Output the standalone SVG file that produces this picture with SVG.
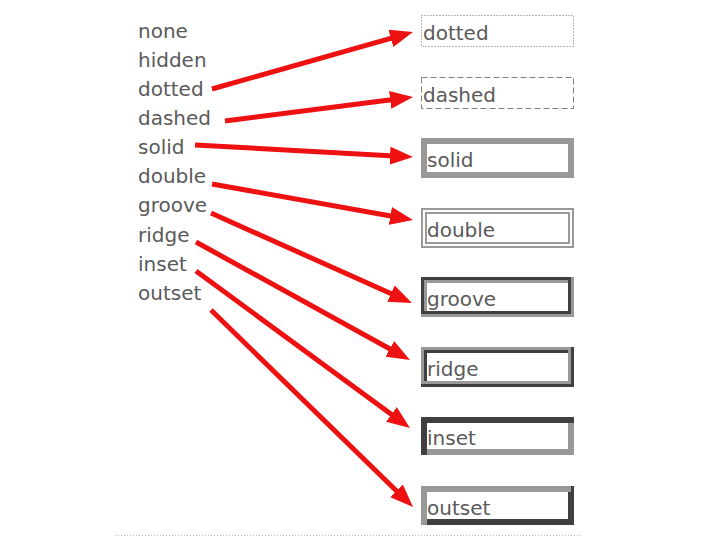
<svg xmlns="http://www.w3.org/2000/svg" width="720" height="540" viewBox="0 0 720 540">
<defs>
<style>
.lbl{font-family:"DejaVu Sans",sans-serif;font-size:20px;fill:#5a5a5a}
.arr{stroke:#ee1111;stroke-width:5;fill:none;marker-end:url(#ah)}
.dk{stroke:#404040;stroke-width:3;fill:none}
.lt{stroke:#999999;stroke-width:3;fill:none}
</style>
<marker id="ah" markerUnits="userSpaceOnUse" markerWidth="23" markerHeight="18" viewBox="0 0 23 18" refX="9" refY="9" orient="auto">
<path d="M0,0 L23,9 L0,18 z" fill="#ee1111"/>
</marker>
</defs>
<rect width="720" height="540" fill="#ffffff"/>
<g id="list">
<text class="lbl" x="138" y="38">none</text>
<text class="lbl" x="138" y="67">hidden</text>
<text class="lbl" x="138" y="96">dotted</text>
<text class="lbl" x="138" y="125">dashed</text>
<text class="lbl" x="138" y="154">solid</text>
<text class="lbl" x="138" y="183">double</text>
<text class="lbl" x="138" y="212">groove</text>
<text class="lbl" x="138" y="242">ridge</text>
<text class="lbl" x="138" y="271">inset</text>
<text class="lbl" x="138" y="300">outset</text>
</g>
<g id="box-dotted">
<rect x="421.5" y="15.5" width="152" height="31" fill="none" stroke="#707070" stroke-width="1" stroke-dasharray="1,2"/>
<text class="lbl" x="423" y="40">dotted</text>
</g>
<g id="box-dashed">
<rect x="421.5" y="77.5" width="152" height="31" fill="none" stroke="#808080" stroke-width="1" stroke-dasharray="6,3"/>
<text class="lbl" x="423" y="102">dashed</text>
</g>
<g id="box-solid">
<rect x="424" y="141" width="147" height="34" fill="none" stroke="#999" stroke-width="6"/>
<text class="lbl" x="427" y="167">solid</text>
</g>
<g id="box-double">
<rect x="422" y="209" width="151" height="38" fill="none" stroke="#999" stroke-width="2"/>
<rect x="426" y="213" width="143" height="30" fill="none" stroke="#999" stroke-width="2"/>
<text class="lbl" x="427" y="237">double</text>
</g>
<g id="box-groove">
<polyline class="dk" points="422.5,317 422.5,278.5 574,278.5"/>
<polyline class="lt" points="425.5,314 425.5,281.5 571,281.5"/>
<polyline class="lt" points="572.5,277 572.5,315.5 421,315.5"/>
<polyline class="dk" points="569.5,280 569.5,312.5 424,312.5"/>
<text class="lbl" x="427" y="306">groove</text>
</g>
<g id="box-ridge">
<polyline class="lt" points="422.5,387 422.5,348.5 574,348.5"/>
<polyline class="dk" points="425.5,384 425.5,351.5 571,351.5"/>
<polyline class="dk" points="572.5,347 572.5,385.5 421,385.5"/>
<polyline class="lt" points="569.5,350 569.5,382.5 424,382.5"/>
<text class="lbl" x="427" y="376">ridge</text>
</g>
<g id="box-inset">
<rect x="424" y="420" width="147" height="32" fill="none" stroke="#999" stroke-width="6"/>
<polyline points="424,455 424,420 574,420" fill="none" stroke="#404040" stroke-width="6"/>
<text class="lbl" x="427" y="445">inset</text>
</g>
<g id="box-outset">
<rect x="424" y="489" width="147" height="33" fill="none" stroke="#404040" stroke-width="6"/>
<polyline points="424,525 424,489 571,489" fill="none" stroke="#999" stroke-width="6"/>
<text class="lbl" x="427" y="515">outset</text>
</g>
<g id="connectors">
<line class="arr" x1="212" y1="89" x2="399.5" y2="35.8"/>
<line class="arr" x1="225" y1="121" x2="399.1" y2="98.8"/>
<line class="arr" x1="195" y1="145" x2="399" y2="156.2"/>
<line class="arr" x1="212" y1="184" x2="399.2" y2="217.5"/>
<line class="arr" x1="211" y1="213" x2="399.2" y2="297.3"/>
<line class="arr" x1="196" y1="242" x2="397.7" y2="353.2"/>
<line class="arr" x1="196" y1="271" x2="398.7" y2="419.7"/>
<line class="arr" x1="211" y1="310" x2="403" y2="497.2"/>
</g>
<line x1="115" y1="535.5" x2="583" y2="535.5" stroke="#bbb" stroke-width="1" stroke-dasharray="1,2"/>
</svg>
